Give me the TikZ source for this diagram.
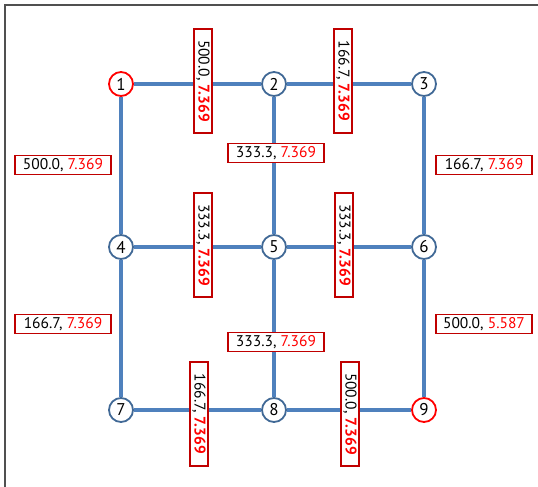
\documentclass[tikz,border=0pt]{standalone}
\usepackage{fontspec}
\setmainfont{PT Sans}
\definecolor{edgeblue}{RGB}{79,129,189}
\definecolor{nodeblue}{RGB}{65,105,150}
\definecolor{boxred}{RGB}{192,0,0}
\definecolor{txtred}{RGB}{255,0,0}
\definecolor{framegray}{RGB}{80,80,80}
\begin{document}
\begin{tikzpicture}[x=1pt,y=-1pt,
  bus/.style={circle,draw=nodeblue,line width=1.8pt,fill=white,minimum size=24pt,inner sep=0pt,font=\fontsize{17}{17}\selectfont},
  slack/.style={bus,draw=txtred},
  line/.style={edgeblue,line width=3.5pt},
  hlab/.style={draw=boxred,line width=1.8pt,fill=white,minimum width=96pt,minimum height=19pt,inner sep=0pt,font=\fontsize{15.5}{16}\selectfont},
  vlab/.style={hlab,rotate=-90,minimum width=104pt,minimum height=18pt}]
\useasboundingbox (0,0) rectangle (538,487);
\draw[framegray,line width=1.5pt] (5,487) -- (5,5) -- (538,5);
% buses
\node[slack] (n1) at (121,84) {1};
\node[bus] (n2) at (274,84) {2};
\node[bus] (n3) at (424,84) {3};
\node[bus] (n4) at (121,247) {4};
\node[bus] (n5) at (274,247) {5};
\node[bus] (n6) at (424,247) {6};
\node[bus] (n7) at (121,410) {7};
\node[bus] (n8) at (274,410) {8};
\node[slack] (n9) at (424,410) {9};
% lines
\draw[line] (n1) -- (n2);
\draw[line] (n2) -- (n3);
\draw[line] (n4) -- (n5);
\draw[line] (n5) -- (n6);
\draw[line] (n7) -- (n8);
\draw[line] (n8) -- (n9);
\draw[line] (n1) -- (n4);
\draw[line] (n4) -- (n7);
\draw[line] (n2) -- (n5);
\draw[line] (n5) -- (n8);
\draw[line] (n3) -- (n6);
\draw[line] (n6) -- (n9);
% labels
\node[vlab] (l12) at (203,81) {500.0, {\color{txtred}\bfseries 7.369}};
\node[vlab] (l23) at (343,81) {166.7, {\color{txtred}\bfseries 7.369}};
\node[vlab] (l45) at (203,245) {333.3, {\color{txtred}\bfseries 7.369}};
\node[vlab] (l56) at (344,245) {333.3, {\color{txtred}\bfseries 7.369}};
\node[vlab] (l78) at (199,414) {166.7, {\color{txtred}\bfseries 7.369}};
\node[vlab] (l89) at (350,414) {500.0, {\color{txtred}\bfseries 7.369}};
\node[hlab] (l14) at (63,165) {500.0, {\color{txtred}7.369}};
\node[hlab] (l47) at (63,324) {166.7, {\color{txtred}7.369}};
\node[hlab] (l25) at (276,153) {333.3, {\color{txtred}7.369}};
\node[hlab] (l58) at (276,342) {333.3, {\color{txtred}7.369}};
\node[hlab] (l36) at (484,165) {166.7, {\color{txtred}7.369}};
\node[hlab] (l69) at (484,324) {500.0, {\color{txtred}5.587}};
\end{tikzpicture}
\end{document}
